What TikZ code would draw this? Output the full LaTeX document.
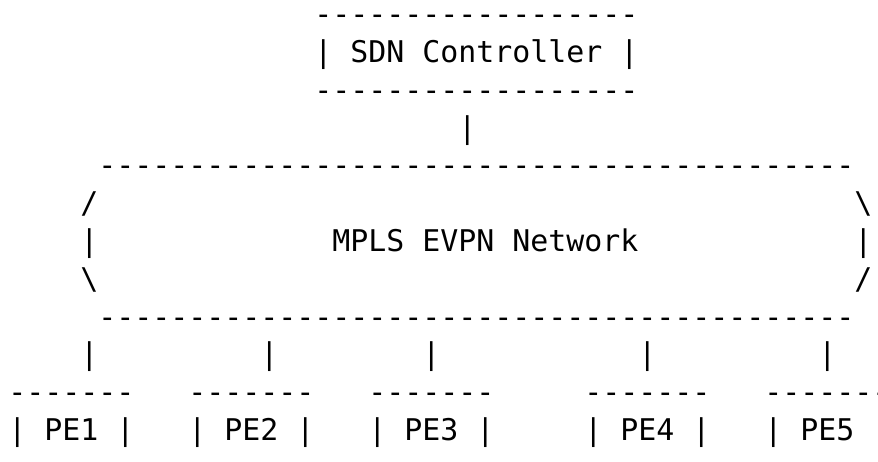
\documentclass[tikz,border=0pt]{standalone}
\usepackage{fontspec}
\setmonofont{DejaVu Sans Mono}
\usepackage{tikz}
\usetikzlibrary{positioning}

\begin{document}
\begin{tikzpicture}[
    x=9pt, y=-18.9pt,
    txt/.style={font=\fontsize{14.95pt}{18pt}\selectfont\ttfamily, anchor=base west, inner sep=0pt, text=black},
]
    \useasboundingbox (-0.4444,-0.651) rectangle (48.333,11.571);

    % controller box
    \node[txt] (ctrltop) at (17,0) {------------------};
    \node[txt] (ctrl)    at (17,1) {| SDN Controller |};
    \node[txt] (ctrlbot) at (17,2) {------------------};
    \node[txt] (uplink)  at (25,3) {|};

    % network cloud
    \node[txt] (nettop) at (5,4) {------------------------------------------};
    \node[txt] (netnw)  at (4,5) {/};
    \node[txt] (netne)  at (47,5) {\textbackslash};
    \node[txt] (netw)   at (4,6) {|};
    \node[txt] (net)    at (18,6) {MPLS EVPN Network};
    \node[txt] (nete)   at (47,6) {|};
    \node[txt] (netsw)  at (4,7) {\textbackslash};
    \node[txt] (netse)  at (47,7) {/};
    \node[txt] (netbot) at (5,8) {------------------------------------------};

    % links down to the PEs
    \foreach \c [count=\k] in {4,14,23,35,45}
        \node[txt] (link\k) at (\c,9) {|};

    % PE boxes
    \foreach \c/\k in {0/1,10/2,20/3,32/4} {
        \node[txt] (pe\k top) at (\c,10) {-------};
        \node[txt] (pe\k) at (\c,11) {| PE\k\ |};
    }
    \node[txt] (pe5top) at (42,10) {-------};
    \node[txt] (pe5) at (42,11) {| PE5};
\end{tikzpicture}
\end{document}
